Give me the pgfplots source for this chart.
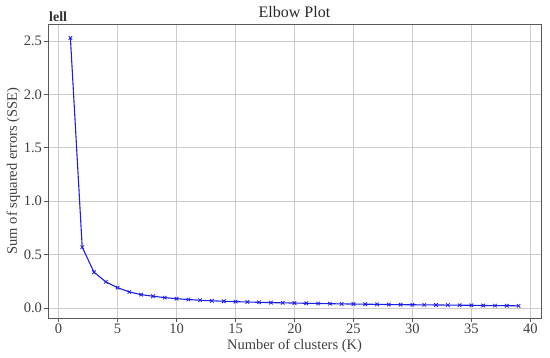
\documentclass[border=0pt]{standalone}
\usepackage{pgfplots}
\pgfplotsset{compat=1.18}
\usepackage{fontspec}
\setmainfont{Liberation Serif}
\begin{document}
\begin{tikzpicture}
\begin{axis}[
  scale only axis, width=493pt, height=294pt,
  xmin=-0.9, xmax=40.9, ymin=-0.094, ymax=2.66,
  xtick={0,5,...,40}, ytick={0,0.5,...,2.5},
  yticklabel style={xshift=1pt, /pgf/number format/.cd, fixed, fixed zerofill, precision=1},
  /pgf/number format/assume math mode=true,
  tick label style={font=\fontsize{14.5}{16}\selectfont, text=black!75},
  label style={font=\fontsize{14.5}{16}\selectfont, text=black!75},
  title style={font=\fontsize{16}{18}\selectfont, text=black!85, yshift=-3pt},
  title={Elbow Plot},
  xlabel={Number of clusters (K)},
  ylabel={Sum of squared errors (SSE)},
  xticklabel style={yshift=1pt},
  xlabel style={yshift=1pt},
  ylabel style={yshift=-3pt},
  grid=major, grid style={black!20, line width=0.8pt},
  axis line style={black!65, line width=0.9pt},
  tick align=outside, tick pos=left, major tick length=3.5pt,
  tick style={black!65, line width=0.7pt},
  clip=false,
]
\addplot[color={rgb,255:red,30;green,30;blue,235}, line width=1.1pt, mark=x, mark size=2.5pt, mark options={line width=0.8pt}] coordinates {
(1,2.53)(2,0.57)(3,0.335)(4,0.245)(5,0.19)(6,0.15)(7,0.125)(8,0.11)(9,0.097)(10,0.087)
(11,0.079)(12,0.072)(13,0.067)(14,0.063)(15,0.059)(16,0.056)(17,0.053)(18,0.050)(19,0.048)(20,0.046)
(21,0.044)(22,0.042)(23,0.040)(24,0.038)(25,0.037)(26,0.035)(27,0.034)(28,0.032)(29,0.031)(30,0.030)
(31,0.029)(32,0.028)(33,0.027)(34,0.026)(35,0.025)(36,0.023)(37,0.022)(38,0.021)(39,0.020)
};
\node[anchor=south west, inner sep=0pt, font=\fontsize{14}{16}\selectfont\bfseries, text=black!80] at ([xshift=1pt,yshift=2pt]rel axis cs:0,1) {lell};
\end{axis}
\pgfresetboundingbox
\path ([shift={(-48pt,-39pt)}]current axis.south west) rectangle ([shift={(9pt,24pt)}]current axis.north east);
\end{tikzpicture}
\end{document}
